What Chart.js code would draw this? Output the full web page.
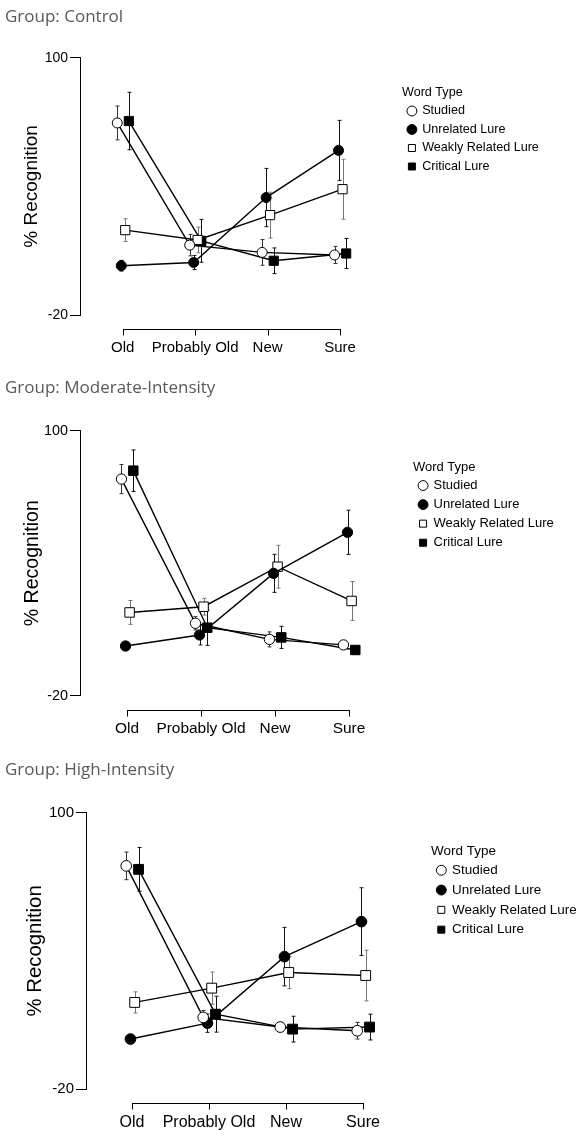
<!DOCTYPE html>
<html>
<head>
<meta charset="utf-8">
<script src="https://cdn.jsdelivr.net/npm/chart.js@4.4.1/dist/chart.umd.min.js"></script>
<style>
  body { margin: 0; background: #fff; }
  canvas { position: absolute; left: 0; }
</style>
</head>
<body>
<canvas id="c0" width="587" height="370"></canvas>
<canvas id="c1" width="587" height="380"></canvas>
<canvas id="c2" width="587" height="396"></canvas>
<script>
const categories = ['Old', 'Probably Old', 'New', 'Sure'];
const wordTypes = ['Studied', 'Unrelated Lure', 'Weakly Related Lure', 'Critical Lure'];
const groupTitles = ['Group: Control', 'Group: Moderate-Intensity', 'Group: High-Intensity'];
const yTicks = [-20, 100];

// rows follow wordTypes, columns follow categories
const controlMeans = [
    [69.6, 12.6, 9.2, 8.0],
    [3.0, 4.5, 34.8, 56.8],
    [19.6, 15.0, 26.6, 38.7],
    [70.5, 14.6, 5.3, 8.7]
];
const controlErrors = [
    [7.9, 5, 6, 4],
    [2.5, 3.3, 13.6, 14],
    [5.3, 6, 10.7, 14],
    [13.4, 10, 6, 7]
];
const moderateMeans = [
    [78.1, 12.8, 5.5, 3.0],
    [2.5, 7.5, 35.4, 54.0],
    [17.7, 20.3, 38.4, 22.9],
    [81.9, 10.8, 6.4, 0.7]
];
const moderateErrors = [
    [6.6, 3, 3.4, 2],
    [1, 4.5, 8.6, 10],
    [5.4, 3.8, 9.7, 8.8],
    [9.4, 8, 5, 1]
];
const highMeans = [
    [76.9, 11.1, 6.9, 5.3],
    [1.7, 8.6, 37.5, 52.7],
    [17.6, 23.8, 30.6, 29.3],
    [75.4, 12.5, 6.0, 6.9]
];
const highErrors = [
    [6, 3, 2, 3.6],
    [1, 4, 12.7, 14.7],
    [4.6, 7, 7, 11],
    [9.5, 7.8, 5.6, 5.6]
];

// look of each word type
const dodge = [-0.075, -0.02, 0.035, 0.085];
const shapes = ['circle', 'circle', 'rect', 'rect'];
const radii = [5, 5, 6.5, 6.5];
const fills = ['#fff', '#000', '#fff', '#000'];
const errColors = ['#333', '#111', '#777', '#111'];

const arial = '"Liberation Sans", Arial, sans-serif';
const W = 587, padL = 5, boxW = 8;

const panels = [
    { id: 'c0', top: 0, height: 370, title: groupTitles[0], means: controlMeans, errors: controlErrors,
      titleY: 17, axisX: 80, y100: 57.8, yLow: 315, oldX: 122.7, sureX: 340, gap: 14, legendX: 402, legendY: 93, yTitleX: 32, s: 1 },
    { id: 'c1', top: 370, height: 380, title: groupTitles[1], means: moderateMeans, errors: moderateErrors,
      titleY: 18, axisX: 80, y100: 60.7, yLow: 325.7, oldX: 127, sureX: 349, gap: 14.3, legendX: 413, legendY: 97, yTitleX: 33, s: 1.03 },
    { id: 'c2', top: 750, height: 396, title: groupTitles[2], means: highMeans, errors: highErrors,
      titleY: 20, axisX: 86, y100: 62.7, yLow: 339, oldX: 132, sureX: 363, gap: 13.7, legendX: 431, legendY: 101, yTitleX: 35, s: 1.07 }
];

const measureCtx = document.createElement('canvas').getContext('2d');
function textWidth(str, size) {
    measureCtx.font = 'normal ' + size + 'px ' + arial;
    return measureCtx.measureText(str).width;
}

// x axis is detached below the plot, plus the error bars
function axisAndErrors(gap) {
    return {
        id: 'axisAndErrors',
        beforeDatasetsDraw(chart) {
            const ctx = chart.ctx, x = chart.scales.x, y = chart.scales.y;
            ctx.save();
            ctx.lineWidth = 1;
            ctx.strokeStyle = '#000';
            const ay = Math.round(chart.chartArea.bottom + gap) + 0.5;
            ctx.beginPath();
            ctx.moveTo(Math.round(x.getPixelForValue(0)), ay);
            ctx.lineTo(Math.round(x.getPixelForValue(categories.length - 1)) + 1, ay);
            categories.forEach((c, j) => {
                const px = Math.round(x.getPixelForValue(j)) + 0.5;
                ctx.moveTo(px, ay);
                ctx.lineTo(px, ay + 6);
            });
            ctx.stroke();

            chart.data.datasets.forEach((ds, i) => {
                const meta = chart.getDatasetMeta(i);
                ctx.strokeStyle = ds.errorColor;
                ctx.beginPath();
                meta.data.forEach((pt, j) => {
                    const v = ds.data[j].y, e = ds.errors[j];
                    const t = y.getPixelForValue(v + e), b = y.getPixelForValue(v - e);
                    const px = Math.round(pt.x) + 0.5;
                    ctx.moveTo(px, t); ctx.lineTo(px, b);
                    ctx.moveTo(px - 2, t); ctx.lineTo(px + 2, t);
                    ctx.moveTo(px - 2, b); ctx.lineTo(px + 2, b);
                });
                ctx.stroke();
            });
            ctx.restore();
        }
    };
}

function makeChart(p) {
    const canvas = document.getElementById(p.id);
    canvas.style.top = p.top + 'px';
    const s = p.s;
    const unit = (p.sureX - p.oldX) / (categories.length - 1);
    const lfs = 12.6 * s, lp = 5.9 * s;
    const yTitleLH = 19 * s * 1.2;
    const widest = Math.max(...wordTypes.map(t => textWidth(t, lfs)));
    const legendW = lp + boxW + lfs / 2 + widest + 10;

    const datasets = wordTypes.map((name, i) => ({
        label: name,
        data: categories.map((c, j) => ({ x: j + dodge[i], y: p.means[i][j] })),
        errors: p.errors[i],
        errorColor: errColors[i],
        borderColor: '#000',
        borderWidth: 1.4,
        fill: false,
        tension: 0,
        pointStyle: shapes[i],
        pointRadius: radii[i] * s,
        pointHoverRadius: radii[i] * s,
        pointBackgroundColor: fills[i],
        pointBorderColor: '#000',
        pointBorderWidth: 1
    }));

    new Chart(canvas, {
        type: 'line',
        data: { datasets: datasets },
        options: {
            responsive: false,
            animation: false,
            events: [],
            layout: { padding: { left: padL, right: W - p.legendX - legendW, top: 0, bottom: 0 } },
            scales: {
                x: {
                    type: 'linear',
                    bounds: 'data',
                    min: -(p.oldX - p.axisX) / unit,
                    max: (p.legendX - p.oldX) / unit,
                    afterBuildTicks: (sc) => { sc.ticks = categories.map((c, j) => ({ value: j })); },
                    afterFit: (sc) => { sc.height = p.height - p.yLow; },
                    grid: { display: false, drawTicks: false },
                    border: { display: false },
                    ticks: {
                        padding: 24,
                        color: '#000',
                        maxRotation: 0,
                        autoSkip: false,
                        font: { family: arial, size: 15 * s },
                        callback: (v) => categories[v]
                    }
                },
                y: {
                    min: -20,
                    max: 100,
                    bounds: 'data',
                    afterBuildTicks: (sc) => { sc.ticks = yTicks.map(v => ({ value: v })); },
                    afterFit: (sc) => { sc.width = p.axisX - padL; },
                    grid: { drawOnChartArea: false, drawTicks: true, tickLength: 10, color: '#000', lineWidth: 1 },
                    border: { display: true, color: '#000', width: 1 },
                    ticks: { padding: 2, color: '#000', font: { family: arial, size: 14 * s } },
                    title: {
                        display: true,
                        text: '% Recognition',
                        color: '#000',
                        font: { family: arial, size: 19 * s },
                        padding: { top: p.yTitleX - padL - yTitleLH / 2, bottom: 0 }
                    }
                }
            },
            plugins: {
                title: {
                    display: true,
                    text: p.title,
                    align: 'start',
                    color: '#595959',
                    font: { family: '"Open Sans", sans-serif', size: 17, weight: 'normal', lineHeight: 1.2 },
                    padding: { top: p.titleY - 10.2, bottom: p.y100 - p.titleY - 10.2 }
                },
                legend: {
                    position: 'right',
                    align: 'start',
                    fullSize: false,
                    maxWidth: legendW + 40,
                    title: {
                        display: true,
                        text: 'Word Type',
                        position: 'start',
                        color: '#000',
                        font: { family: arial, size: lfs, lineHeight: 1 },
                        padding: { top: p.legendY - p.y100 - lfs / 2, bottom: 18 * s - lfs - lp }
                    },
                    labels: {
                        usePointStyle: true,
                        boxWidth: boxW,
                        boxHeight: 7,
                        padding: lp,
                        color: '#000',
                        font: { family: arial, size: lfs }
                    }
                },
                tooltip: { enabled: false }
            }
        },
        plugins: [axisAndErrors(p.gap)]
    });
}

panels.forEach(makeChart);
</script>
</body>
</html>
